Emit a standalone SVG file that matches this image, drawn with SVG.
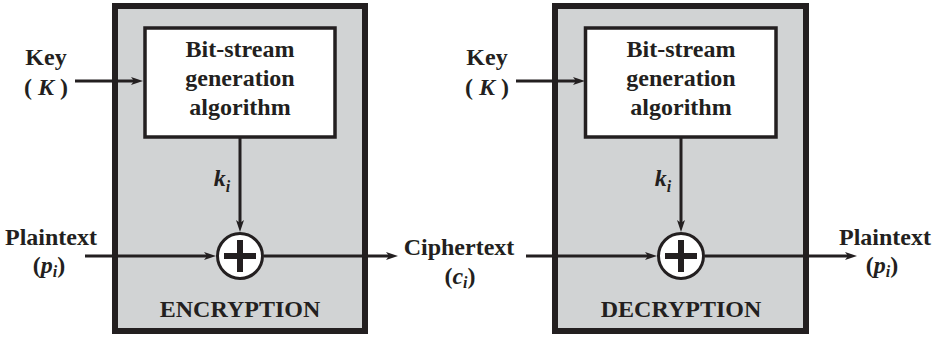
<svg xmlns="http://www.w3.org/2000/svg" width="932" height="337" viewBox="0 0 932 337">
<style>
.t{font-family:"Liberation Serif","Times New Roman",serif;font-weight:bold;font-size:24px;fill:#231f20;text-anchor:middle}
.it{font-style:italic}
.sub{font-size:16px;font-style:italic}
.outer{fill:#d1d3d4;stroke:#231f20;stroke-width:6}
.inner{fill:#fff;stroke:#231f20;stroke-width:3.5}
.ln{stroke:#231f20;stroke-width:3;fill:none}
.xor{fill:#fff;stroke:#231f20;stroke-width:3}
.plus{stroke:#231f20;stroke-width:6}
</style>
<defs>
<marker id="ah" markerUnits="userSpaceOnUse" markerWidth="13" markerHeight="10" viewBox="0 0 13 10" refX="4" refY="5" orient="auto">
<path d="M0,1 L12,5 L0,9 L3,5 z" fill="#231f20"/>
</marker>
</defs>
<g id="encryption">
<rect class="outer" x="115" y="6" width="250" height="325"/>
<text class="t" x="240" y="317">ENCRYPTION</text>
</g>
<g id="decryption">
<rect class="outer" x="555" y="6" width="251" height="325"/>
<text class="t" x="681" y="317">DECRYPTION</text>
</g>
<g id="gen1">
<rect class="inner" x="145" y="28" width="190" height="109"/>
<text class="t" x="240" y="57">Bit-stream</text>
<text class="t" x="240" y="86">generation</text>
<text class="t" x="240" y="115">algorithm</text>
</g>
<g id="gen2">
<rect class="inner" x="585.5" y="28" width="190.5" height="109"/>
<text class="t" x="681" y="57">Bit-stream</text>
<text class="t" x="681" y="86">generation</text>
<text class="t" x="681" y="115">algorithm</text>
</g>
<g id="connectors">
<line class="ln" x1="75" y1="81" x2="135" y2="81" marker-end="url(#ah)"/>
<line class="ln" x1="85" y1="256" x2="208" y2="256" marker-end="url(#ah)"/>
<line class="ln" x1="240" y1="137" x2="240" y2="224" marker-end="url(#ah)"/>
<line class="ln" x1="264" y1="256" x2="390" y2="256" marker-end="url(#ah)"/>
<line class="ln" x1="516" y1="81" x2="577" y2="81" marker-end="url(#ah)"/>
<line class="ln" x1="526" y1="256" x2="649" y2="256" marker-end="url(#ah)"/>
<line class="ln" x1="681" y1="137" x2="681" y2="224" marker-end="url(#ah)"/>
<line class="ln" x1="705" y1="256" x2="849" y2="256" marker-end="url(#ah)"/>
</g>
<g id="xor1">
<circle class="xor" cx="240" cy="256" r="22.5"/>
<line class="plus" x1="224" y1="256" x2="256" y2="256"/>
<line class="plus" x1="240" y1="240" x2="240" y2="272"/>
</g>
<g id="xor2">
<circle class="xor" cx="681" cy="256" r="22.5"/>
<line class="plus" x1="665" y1="256" x2="697" y2="256"/>
<line class="plus" x1="681" y1="240" x2="681" y2="272"/>
</g>
<g id="key1">
<text class="t" x="46" y="65">Key</text>
<text class="t" x="46" y="95">( <tspan class="it">K</tspan> )</text>
</g>
<g id="key2">
<text class="t" x="487" y="65">Key</text>
<text class="t" x="487" y="95">( <tspan class="it">K</tspan> )</text>
</g>
<g id="ki1"><text class="t" x="222" y="186"><tspan class="it">k</tspan><tspan class="sub" dy="6">i</tspan></text></g>
<g id="ki2"><text class="t" x="663" y="186"><tspan class="it">k</tspan><tspan class="sub" dy="6">i</tspan></text></g>
<g id="plain-in">
<text class="t" x="51" y="245">Plaintext</text>
<text class="t" x="49" y="273">(<tspan class="it">p</tspan><tspan class="sub" dy="4">i</tspan><tspan dy="-4">)</tspan></text>
</g>
<g id="cipher">
<text class="t" x="459" y="255">Ciphertext</text>
<text class="t" x="460" y="284">(<tspan class="it">c</tspan><tspan class="sub" dy="4">i</tspan><tspan dy="-4">)</tspan></text>
</g>
<g id="plain-out">
<text class="t" x="885" y="245">Plaintext</text>
<text class="t" x="882" y="273">(<tspan class="it">p</tspan><tspan class="sub" dy="4">i</tspan><tspan dy="-4">)</tspan></text>
</g>
</svg>
